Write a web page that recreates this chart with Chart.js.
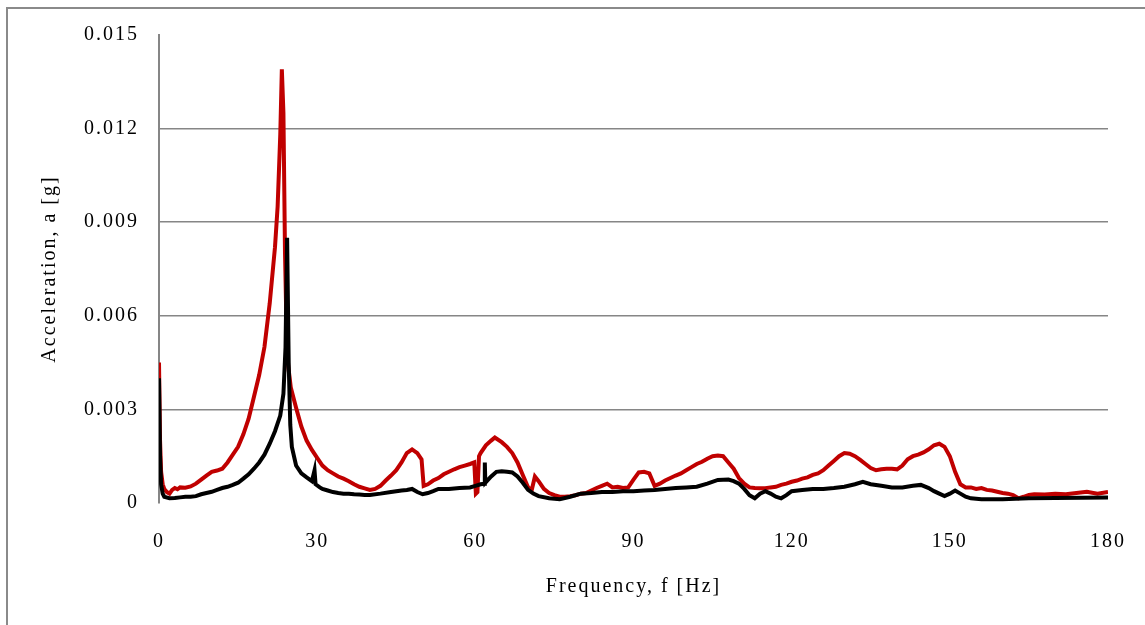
<!DOCTYPE html>
<html>
<head>
<meta charset="utf-8">
<script src="https://cdn.jsdelivr.net/npm/chart.js@4.4.1/dist/chart.umd.min.js"></script>
<style>
    html, body { margin: 0; padding: 0; background: #fff; }
    #wrap { position: relative; width: 1145px; height: 625px; overflow: hidden; }
    #frame { position: absolute; left: 6px; top: 7px; width: 1200px; height: 700px;
             border-left: 2px solid #8a8a8a; border-top: 2px solid #8a8a8a; }
    canvas { position: absolute; left: 0; top: 0; }
</style>
</head>
<body>
<div id="wrap">
    <div id="frame"></div>
    <canvas id="espectroChart" width="1145" height="625"></canvas>
</div>
<script>
// =================== DADOS ===================
// frequência [Hz], aceleração [g] - curva vermelha
const curvaVermelha = [
    [0, 0.0045], [0.2, 0.0020], [0.4, 0.0010], [0.7, 0.0006], [1, 0.00045], [1.5, 0.00035],
    [2, 0.0003], [2.5, 0.00042], [3, 0.00048], [3.5, 0.00044], [4, 0.0005], [5, 0.00049],
    [6, 0.00053], [7, 0.00062], [8, 0.00075], [9, 0.00088], [10, 0.001], [11, 0.00104],
    [12, 0.0011], [13, 0.0013], [14, 0.00155], [15, 0.0018], [16, 0.0022], [17, 0.0027],
    [18, 0.0034], [19, 0.0041], [20, 0.005], [21, 0.0064], [22, 0.0082], [22.5, 0.0095],
    [23, 0.0118], [23.3, 0.0139], [23.6, 0.0125], [23.9, 0.008], [24.2, 0.0055], [24.5, 0.0044],
    [25, 0.0037], [26, 0.00305], [27, 0.00245], [28, 0.002], [29, 0.0017], [30, 0.00145],
    [31, 0.0012], [32, 0.00105], [33, 0.00095], [34, 0.00085], [35, 0.00078], [36, 0.0007],
    [37, 0.0006], [38, 0.00052], [39, 0.00047], [40, 0.00042], [41, 0.00045], [42, 0.00055],
    [43, 0.00072], [44, 0.00088], [45, 0.00105], [46, 0.0013], [47, 0.0016], [48, 0.00172],
    [49, 0.0016], [49.8, 0.0014], [50.2, 0.00055], [51, 0.0006], [52, 0.00072], [53, 0.0008],
    [54, 0.00092], [55, 0.001], [56, 0.00108], [57, 0.00115], [58, 0.0012], [59, 0.00125],
    [59.8, 0.0013], [60.1, 0.0003], [60.4, 0.00035], [60.7, 0.0015], [61, 0.0016], [62, 0.00185],
    [63, 0.002], [63.7, 0.0021], [65, 0.00195], [66, 0.0018], [67, 0.0016], [68, 0.0013],
    [69, 0.0009], [70, 0.0005], [70.7, 0.00042], [71.3, 0.00085], [72, 0.0007], [73, 0.00045],
    [74, 0.00032], [75, 0.00025], [76, 0.0002], [77, 0.0002], [78, 0.00022], [79, 0.00025],
    [80, 0.0003], [81, 0.00032], [82, 0.0004], [83, 0.00048], [84, 0.00055], [85, 0.00062],
    [86, 0.0005], [87, 0.00052], [88, 0.00048], [89, 0.0005], [90, 0.00075], [91, 0.00098],
    [92, 0.001], [93, 0.00095], [94, 0.00055], [95, 0.00062], [96, 0.00072], [97, 0.0008],
    [98, 0.00088], [99, 0.00095], [100, 0.00105], [101, 0.00115], [102, 0.00125], [103, 0.00132],
    [104, 0.00142], [105, 0.0015], [106, 0.00152], [107, 0.0015], [108, 0.0013], [109, 0.0011],
    [110, 0.0008], [111, 0.00062], [112, 0.0005], [113, 0.00048], [114, 0.00047], [115, 0.00047],
    [116, 0.0005], [117, 0.00052], [118, 0.00058], [119, 0.00062], [120, 0.00068], [121, 0.00072],
    [122, 0.00078], [123, 0.00082], [124, 0.0009], [125, 0.00095], [126, 0.00105], [127, 0.0012],
    [128, 0.00135], [129, 0.0015], [130, 0.0016], [131, 0.00158], [132, 0.0015], [133, 0.00138],
    [134, 0.00125], [135, 0.00112], [136, 0.00105], [137, 0.00108], [138, 0.0011], [139, 0.0011],
    [140, 0.00108], [141, 0.0012], [142, 0.0014], [143, 0.0015], [144, 0.00155], [145, 0.00162],
    [146, 0.00172], [147, 0.00185], [148, 0.0019], [149, 0.0018], [150, 0.0015], [151, 0.001],
    [152, 0.0006], [153, 0.0005], [154, 0.0005], [155, 0.00045], [156, 0.00048], [157, 0.00042],
    [158, 0.0004], [159, 0.00036], [160, 0.00032], [161, 0.0003], [162, 0.00025], [163, 0.00015],
    [164, 0.0002], [165, 0.00026], [166, 0.00028], [168, 0.00027], [170, 0.0003], [172, 0.00028],
    [174, 0.00032], [176, 0.00036], [178, 0.0003], [180, 0.00035]
];

// frequência [Hz], aceleração [g] - curva preta
const curvaPreta = [
    [0, 0.004], [0.2, 0.0015], [0.4, 0.0006], [0.7, 0.0003], [1, 0.0002], [2, 0.00015],
    [3, 0.00016], [4, 0.00018], [5, 0.0002], [6, 0.0002], [7, 0.00022], [8, 0.00028],
    [9, 0.00032], [10, 0.00036], [11, 0.00042], [12, 0.00048], [13, 0.00052], [14, 0.00058],
    [15, 0.00065], [16, 0.00078], [17, 0.00092], [18, 0.0011], [19, 0.0013], [20, 0.00155],
    [21, 0.0019], [22, 0.0023], [23, 0.0028], [23.6, 0.0035], [24, 0.005], [24.3, 0.0085],
    [24.6, 0.0045], [24.9, 0.0025], [25.2, 0.0018], [26, 0.0012], [27, 0.00095], [28, 0.00082],
    [29, 0.0007], [29.5, 0.00105], [29.7, 0.0006], [30.5, 0.0005], [31, 0.00045], [32, 0.0004],
    [33, 0.00035], [34, 0.00032], [35, 0.0003], [36, 0.0003], [37, 0.00028], [38, 0.00027],
    [39, 0.00026], [40, 0.00026], [42, 0.0003], [44, 0.00035], [46, 0.0004], [47, 0.00042],
    [48, 0.00045], [49, 0.00035], [50, 0.00028], [51, 0.00032], [52, 0.00038], [53, 0.00045],
    [55, 0.00045], [57, 0.00048], [59, 0.0005], [60, 0.00055], [61, 0.0006], [61.7, 0.00062],
    [61.8, 0.0013], [61.9, 0.00065], [63, 0.00085], [64, 0.001], [65, 0.00102], [66, 0.001],
    [67, 0.00098], [68, 0.00085], [69, 0.00065], [70, 0.00042], [71, 0.0003], [72, 0.00022],
    [74, 0.00015], [76, 0.00012], [78, 0.0002], [80, 0.0003], [82, 0.00032], [84, 0.00035],
    [86, 0.00035], [88, 0.00038], [90, 0.00038], [92, 0.0004], [94, 0.00042], [96, 0.00045],
    [98, 0.00048], [100, 0.0005], [102, 0.00052], [104, 0.00062], [106, 0.00074], [108, 0.00075],
    [109, 0.0007], [110, 0.00062], [111, 0.00045], [112, 0.00025], [113, 0.00015], [114, 0.0003],
    [115, 0.00038], [116, 0.0003], [117, 0.0002], [118, 0.00015], [119, 0.00025], [120, 0.00038],
    [122, 0.00042], [124, 0.00045], [126, 0.00045], [128, 0.00048], [130, 0.00052], [132, 0.0006],
    [133.5, 0.00068], [135, 0.0006], [137, 0.00055], [139, 0.0005], [141, 0.0005], [143, 0.00055],
    [144.5, 0.00058], [146, 0.00048], [147, 0.00038], [148, 0.0003], [149, 0.00022], [150, 0.0003],
    [151, 0.0004], [152, 0.0003], [153, 0.0002], [154, 0.00015], [156, 0.00012], [158, 0.00012],
    [160, 0.00012], [165, 0.00015], [170, 0.00016], [175, 0.00017], [180, 0.00018]
];

const ticksFrequencia = [0, 30, 60, 90, 120, 150, 180];
const ticksAceleracao = [0, 0.003, 0.006, 0.009, 0.012, 0.015];

// =================== ESTILO ===================
const fonteSerif = { family: '"Liberation Serif", "Times New Roman", serif', size: 20 };

const espacamentoLetras = {
    id: 'espacamentoLetras',
    beforeLayout(chart) { chart.ctx.letterSpacing = '2px'; },
    beforeDraw(chart) { chart.ctx.letterSpacing = '2px'; }
};

// =================== GRÁFICO ===================
const ctx = document.getElementById('espectroChart');

new Chart(ctx, {
    type: 'line',
    data: {
        datasets: [
            {
                label: 'vermelha',
                data: curvaVermelha.map(p => ({ x: p[0], y: p[1] })),
                borderColor: '#C00000',
                borderWidth: 4,
                order: 2
            },
            {
                label: 'preta',
                data: curvaPreta.map(p => ({ x: p[0], y: p[1] })),
                borderColor: '#000000',
                borderWidth: 4,
                order: 1
            }
        ]
    },
    options: {
        responsive: false,
        animation: false,
        elements: { point: { radius: 0 }, line: { tension: 0 } },
        layout: { padding: { top: 35, right: 37, bottom: 0, left: 0 } },
        plugins: { legend: { display: false }, tooltip: { enabled: false } },
        scales: {
            x: {
                type: 'linear',
                min: 0,
                max: 180,
                afterBuildTicks: s => { s.ticks = ticksFrequencia.map(v => ({ value: v })); },
                afterFit: s => { s.height = 122; s.paddingLeft = 0; s.paddingRight = 0; },
                grid: { display: false, drawTicks: false },
                border: { display: false },
                ticks: { color: '#000', font: fonteSerif, padding: 27, maxRotation: 0 },
                title: {
                    display: true,
                    text: 'Frequency, f [Hz]',
                    color: '#000',
                    font: fonteSerif,
                    padding: { top: 0, bottom: 26 }
                }
            },
            y: {
                min: 0,
                max: 0.015,
                afterBuildTicks: s => { s.ticks = ticksAceleracao.map(v => ({ value: v })); },
                afterFit: s => { s.width = 159; s.paddingTop = 0; s.paddingBottom = 0; },
                grid: {
                    drawTicks: false,
                    lineWidth: 1.5,
                    color: c => (c.tick && (c.tick.value === 0.015 || c.tick.value === 0)) ? 'rgba(0,0,0,0)' : '#868686'
                },
                border: { display: true, color: '#868686', width: 2 },
                ticks: {
                    color: '#000',
                    font: fonteSerif,
                    padding: 20,
                    callback: v => v === 0 ? '0' : v.toFixed(3)
                },
                title: {
                    display: true,
                    text: 'Acceleration, a [g]',
                    color: '#000',
                    font: fonteSerif,
                    padding: { top: 38, bottom: 0 }
                }
            }
        }
    },
    plugins: [espacamentoLetras]
});
</script>
</body>
</html>
